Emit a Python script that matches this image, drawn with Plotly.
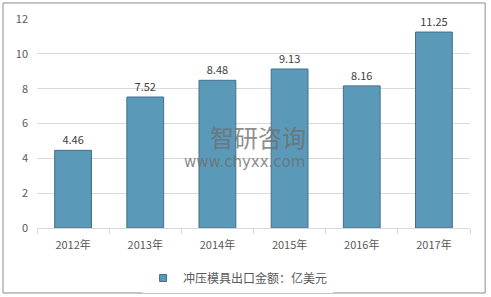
import plotly.graph_objects as go

years = ["2012年", "2013年", "2014年", "2015年", "2016年", "2017年"]
values = [4.46, 7.52, 8.48, 9.13, 8.16, 11.25]
series_name = "冲压模具出口金额：亿美元"
y_ticks = [0, 2, 4, 6, 8, 10, 12]

FONT = "Noto Sans CJK SC, Liberation Sans, sans-serif"
BAR = "#5A9AB8"
EDGE = "#3F7189"

fig = go.Figure()
fig.add_trace(go.Bar(
    x=years, y=values, name=series_name,
    width=0.51,
    marker=dict(color=BAR, line=dict(color=EDGE, width=1)),
    text=[f"{v:.2f}" for v in values],
    textposition="outside",
    textfont=dict(size=11, color="#404040", family=FONT),
    cliponaxis=False,
    showlegend=False,
))
# legend entry with a small square symbol
fig.add_trace(go.Scatter(
    x=[years[0]], y=[None], mode="markers", name=series_name,
    marker=dict(symbol="square", size=7, color=BAR, line=dict(color=EDGE, width=1)),
    showlegend=True, hoverinfo="skip",
))

fig.update_layout(
    width=491, height=297,
    margin=dict(l=37, r=21, t=19, b=69, autoexpand=False),
    paper_bgcolor="white", plot_bgcolor="white",
    font=dict(family=FONT, size=11, color="#595959"),
    showlegend=True,
    legend=dict(orientation="h", x=0.245, xanchor="left", y=-0.17, yanchor="top",
                font=dict(size=12, color="#595959"), itemwidth=30),
    xaxis=dict(
        showline=True, linecolor="#D9D9D9", linewidth=1,
        ticks="outside", tickcolor="#D9D9D9", ticklen=5,
        tickson="boundaries", showgrid=False,
        tickfont=dict(size=11, color="#595959"), ticklabelstandoff=7,
    ),
    yaxis=dict(
        range=[0, 12], tickvals=y_ticks, showline=False,
        gridcolor="#D9D9D9", gridwidth=1, zeroline=False,
        tickfont=dict(size=11, color="#595959"), ticklabelstandoff=8,
    ),
    shapes=[dict(type="rect", xref="paper", yref="paper",
                 x0=-0.0785, x1=1.035, y0=-0.311, y1=1.0766,
                 line=dict(color="#8C8C8C", width=1), fillcolor="rgba(0,0,0,0)")],
    annotations=[
        dict(text="智研咨询", xref="paper", yref="paper", x=0.51, y=0.44,
             showarrow=False, font=dict(size=24, color="rgba(110,110,110,0.8)", family=FONT)),
        dict(text="www.chyxx.com", xref="paper", yref="paper", x=0.48, y=0.265,
             showarrow=False, font=dict(size=15, color="rgba(110,110,110,0.8)", family="DejaVu Sans")),
    ],
)

fig.write_html("out.html")
